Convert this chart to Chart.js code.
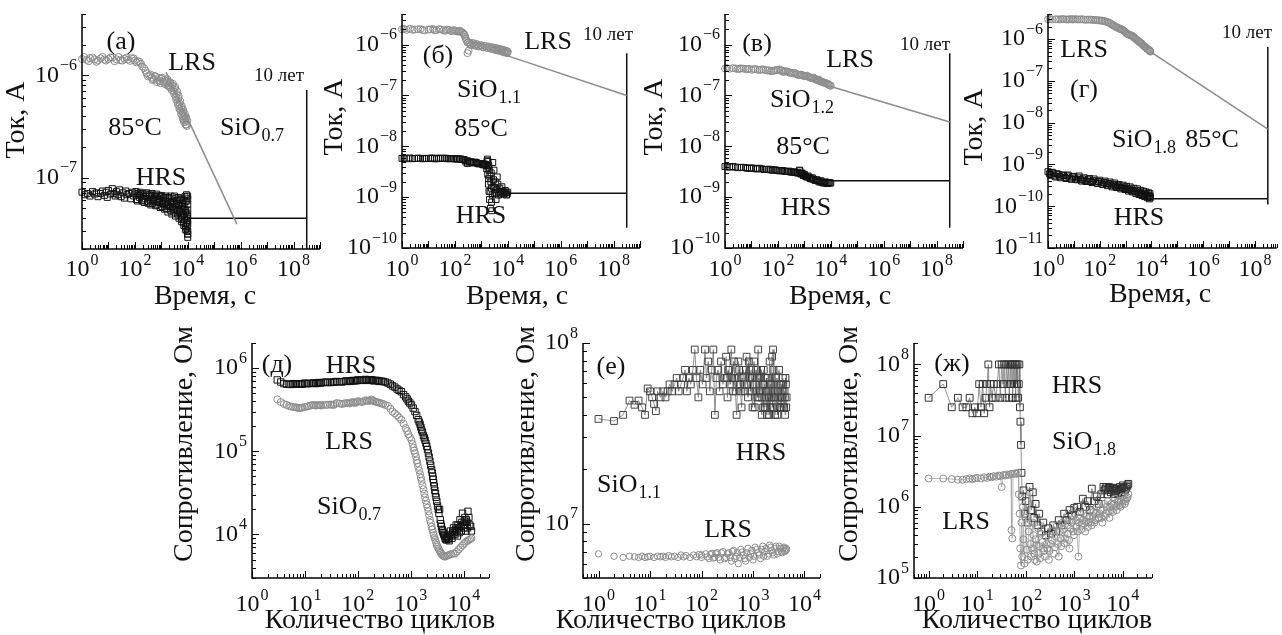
<!DOCTYPE html>
<html><head><meta charset="utf-8">
<script src="https://cdn.jsdelivr.net/npm/chart.js@4.4.1/dist/chart.umd.min.js"></script>
<style>
html,body{margin:0;padding:0;background:#fff;}
#wrap{position:relative;width:1282px;height:635px;overflow:hidden;background:#fff;}
#wrap canvas{position:absolute;left:0;top:0;}
</style></head><body><div id="wrap"></div>
<script>
// ---------------- DATA ----------------
const TEN_YEARS = 3.15e8;               // 10 лет, s
const topXExp = [0, 2, 4, 6, 8];        // x tick labels 10^n, panels а–г
const botXExp = [0, 1, 2, 3, 4];        // x tick labels 10^n, panels д–ж
const aYExp = [-7, -6];
const bYExp = [-10, -9, -8, -7, -6];
const cYExp = [-10, -9, -8, -7, -6];
const dYExp = [-11, -10, -9, -8, -7, -6];
const eYExp = [4, 5, 6];
const fYExp = [7, 8];
const gYExp = [5, 6, 7, 8];

// (а) SiO0.7 retention at 85°C  [time s, current A]
const aLrs = [[1,1.45e-6],[1.5,1.42e-6],[2,1.48e-6],[3,1.44e-6],[4,1.40e-6],[5,1.47e-6],[7,1.43e-6],[10,1.45e-6],[14,1.50e-6],[20,1.44e-6],
[28,1.41e-6],[40,1.46e-6],[55,1.43e-6],[75,1.48e-6],[100,1.40e-6],[130,1.38e-6],[170,1.30e-6],[220,1.18e-6],[280,1.05e-6],[350,1.00e-6],
[430,0.95e-6],[520,0.92e-6],[620,0.97e-6],[740,0.90e-6],[880,0.88e-6],[1000,0.93e-6],[1200,0.86e-6],[1400,0.82e-6],[1600,0.88e-6],[1800,0.80e-6],
[2000,0.84e-6],[2300,0.76e-6],[2600,0.80e-6],[2900,0.70e-6],[3200,0.74e-6],[3500,0.62e-6],[3800,0.66e-6],[4100,0.55e-6],[4400,0.60e-6],[4700,0.50e-6],
[5000,0.53e-6],[5400,0.45e-6],[5800,0.48e-6],[6200,0.40e-6],[6600,0.44e-6],[7000,0.37e-6],[7500,0.40e-6],[8000,0.35e-6],[8500,0.38e-6],[9000,0.33e-6]];
const aLrs2 = [[1.2,1.52e-6],[1.8,1.38e-6],[2.5,1.5e-6],[3.5,1.36e-6],[6,1.52e-6],[8,1.4e-6],[12,1.5e-6],[17,1.38e-6],[24,1.52e-6],[34,1.4e-6],
[48,1.5e-6],[65,1.39e-6],[90,1.47e-6],[115,1.34e-6],[150,1.36e-6],[190,1.22e-6],[250,1.12e-6],[310,0.98e-6],[390,1.02e-6],[470,0.9e-6],
[570,0.99e-6],[680,0.86e-6],[810,0.95e-6],[940,0.84e-6],[1100,0.95e-6],[1300,0.9e-6],[1500,0.84e-6],[1700,0.92e-6],[1900,0.78e-6],[2150,0.86e-6],
[2450,0.72e-6],[2750,0.83e-6],[3050,0.66e-6],[3350,0.77e-6],[3650,0.58e-6],[3950,0.7e-6],[4250,0.52e-6],[4550,0.63e-6],[4850,0.47e-6],[5200,0.56e-6],
[5600,0.42e-6],[6000,0.5e-6],[6400,0.38e-6],[6800,0.46e-6],[7200,0.35e-6],[7700,0.42e-6],[8200,0.33e-6],[8700,0.39e-6],[9200,0.32e-6],[9600,0.36e-6]];
const aHrs = [[1,7.2e-8],[1.3,6.8e-8],[1.6,7.0e-8],[2,6.6e-8],[2.5,7.3e-8],[3,6.9e-8],[3.5,7.1e-8],[4,6.5e-8],[5,7.0e-8],[6,7.4e-8],
[7,6.7e-8],[8,7.2e-8],[9,6.4e-8],[10,7.5e-8],[12,6.9e-8],[14,7.8e-8],[16,7.0e-8],[18,6.6e-8],[20,7.3e-8],[23,6.8e-8],
[26,7.6e-8],[30,6.5e-8],[35,7.1e-8],[40,6.3e-8],[45,7.4e-8],[50,6.8e-8],[60,7.0e-8],[70,6.2e-8],[80,7.2e-8],[90,6.6e-8],
[100,6.9e-8],[115,6.1e-8],[130,7.0e-8],[150,6.4e-8],[170,6.8e-8],[190,5.9e-8],[210,6.6e-8],[240,6.2e-8],[270,6.9e-8],[300,5.8e-8],
[340,6.5e-8],[380,6.0e-8],[420,6.7e-8],[470,5.6e-8],[520,6.3e-8],[580,5.9e-8],[640,6.6e-8],[700,5.4e-8],[780,6.2e-8],[860,5.7e-8],
[950,6.5e-8],[1050,5.2e-8],[1150,6.0e-8],[1270,5.5e-8],[1400,6.4e-8],[1530,5.0e-8],[1680,5.8e-8],[1850,5.3e-8],[2000,6.2e-8],[2200,4.8e-8],
[2400,5.7e-8],[2600,5.1e-8],[2800,6.3e-8],[3000,4.6e-8],[3300,5.5e-8],[3600,4.9e-8],[3900,6.0e-8],[4200,4.4e-8],[4500,5.3e-8],[4800,4.7e-8],
[5100,6.1e-8],[5400,4.2e-8],[5700,5.0e-8],[6000,3.9e-8],[6300,5.6e-8],[6600,4.5e-8],[6900,3.6e-8],[7200,5.2e-8],[7500,4.1e-8],[7800,6.5e-8],
[8100,3.3e-8],[8400,4.8e-8],[8700,3.8e-8],[9000,6.8e-8],[9300,3.0e-8],[9600,4.4e-8],[9800,2.8e-8],[10000,5.5e-8],[10000,3.5e-8],[10000,2.6e-8],
[10000,6.2e-8],[10000,4.2e-8],[10000,3.0e-8]];
const aHrs2 = [[110,7.3e-8],[125,5.9e-8],[140,6.7e-8],[160,7.2e-8],[180,6.0e-8],[200,7.0e-8],[225,5.7e-8],[255,6.6e-8],[285,7.1e-8],[320,5.6e-8],
[360,6.8e-8],[400,5.4e-8],[445,7.0e-8],[495,5.9e-8],[550,6.6e-8],[610,5.3e-8],[670,6.9e-8],[740,5.8e-8],[820,6.6e-8],[900,5.1e-8],
[1000,6.7e-8],[1100,5.6e-8],[1200,6.3e-8],[1330,4.9e-8],[1460,6.6e-8],[1600,5.4e-8],[1760,4.6e-8],[1920,6.4e-8],[2100,5.2e-8],[2300,6.6e-8],
[2500,4.4e-8],[2700,5.9e-8],[2900,4.9e-8],[3150,6.6e-8],[3450,4.2e-8],[3750,5.8e-8],[4050,4.8e-8],[4350,6.4e-8],[4650,4.0e-8],[4950,5.5e-8],
[5250,4.7e-8],[5550,6.3e-8],[5850,3.7e-8],[6150,5.2e-8],[6450,4.3e-8],[6750,6.0e-8],[7050,3.4e-8],[7350,4.9e-8],[7650,3.9e-8],[7950,5.8e-8],
[8250,3.1e-8],[8550,4.6e-8],[8850,3.6e-8],[9150,5.9e-8],[9450,3.3e-8],[9700,4.0e-8],[9900,6.6e-8],[9950,3.8e-8],[10000,4.8e-8],[10000,2.8e-8]];
const aLrsFit = [[1500,1.08e-6],[7.2e5,3.5e-8]];
const aHrsFit = [[1e4,4.0e-8],[TEN_YEARS,4.0e-8]];
const aTen = [[TEN_YEARS,7.2e-7],[TEN_YEARS,2e-8]];

// (б) SiO1.1
const bLrs = [[1,2.0e-6],[1.5,1.95e-6],[2,2.05e-6],[3,1.98e-6],[5,2.02e-6],[7,1.9e-6],[10,1.97e-6],[15,2.03e-6],[20,1.93e-6],[30,1.99e-6],
[45,1.88e-6],[60,1.95e-6],[80,1.85e-6],[100,1.9e-6],[130,1.8e-6],[160,1.86e-6],[200,1.7e-6],[230,1.55e-6],[260,1.3e-6],[300,1.1e-6],
[300,6.8e-7],[330,7.6e-7],[360,1.07e-6],[420,1.0e-6],[500,1.05e-6],[600,9.5e-7],[700,1.0e-6],[850,9.2e-7],[1000,9.6e-7],[1200,8.8e-7],
[1400,9.3e-7],[1700,8.6e-7],[2000,9.0e-7],[2400,8.2e-7],[2800,8.7e-7],[3300,7.9e-7],[3800,8.4e-7],[4300,7.6e-7],[5000,8.1e-7],[5800,7.3e-7],
[6600,7.8e-7],[7500,7.0e-7],[8500,7.5e-7],[9500,6.8e-7],[10000,7.2e-7]];
const bLrs2 = [[1.2,2.04e-6],[2.5,1.96e-6],[4,2.0e-6],[6,1.94e-6],[12,2.0e-6],[17,1.92e-6],[25,2.01e-6],[37,1.9e-6],[50,1.97e-6],[70,1.86e-6],
[90,1.93e-6],[115,1.84e-6],[145,1.83e-6],[180,1.75e-6],[215,1.62e-6],[245,1.42e-6],[280,1.2e-6],[320,1.12e-6],[390,0.98e-6],[460,1.08e-6],
[550,0.97e-6],[650,1.03e-6],[770,0.93e-6],[920,0.98e-6],[1100,0.9e-6],[1300,0.95e-6],[1550,0.87e-6],[1850,0.92e-6],[2200,0.84e-6],[2600,0.89e-6],
[3000,0.8e-6],[3550,0.86e-6],[4000,0.78e-6],[4650,0.83e-6],[5400,0.75e-6],[6200,0.8e-6],[7000,0.72e-6],[8000,0.77e-6],[9000,0.7e-6],[9800,0.74e-6]];
const bHrs = [[1,5.8e-9],[1.5,5.7e-9],[2,5.9e-9],[3,5.75e-9],[4,5.85e-9],[6,5.7e-9],[8,5.8e-9],[10,5.75e-9],[14,5.9e-9],[20,5.7e-9],
[28,5.8e-9],[40,5.85e-9],[55,5.7e-9],[75,5.75e-9],[100,5.65e-9],[130,5.7e-9],[170,5.6e-9],[220,5.5e-9],[260,4.9e-9],[300,5.2e-9],
[300,4.6e-9],[400,5.0e-9],[500,4.7e-9],[650,4.8e-9],[800,4.5e-9],[1000,4.6e-9],[1200,4.3e-9],[1450,4.4e-9],[1600,3.6e-9],[1700,5.6e-9],
[1750,2.8e-9],[1800,5.0e-9],[1850,1.8e-9],[1900,4.2e-9],[1950,1.3e-9],[2000,3.4e-9],[2050,9e-10],[2100,2.6e-9],[2200,6e-10],[2300,2.0e-9],
[2400,1.5e-9],[2500,5.4e-10],[2600,1.1e-9],[2700,4.8e-9],[2800,1.6e-9],[3000,3.4e-9],[3200,1.2e-9],[3400,2.0e-9],[3600,9e-10],[3800,1.4e-9],
[4000,2.5e-9],[4500,1.1e-9],[5000,1.5e-9],[5500,1.25e-9],[6000,1.6e-9],[7000,1.15e-9],[8000,1.35e-9],[9000,1.1e-9],[10000,1.25e-9]];
const bHrs2 = [[1.2,5.85e-9],[2.5,5.7e-9],[5,5.8e-9],[7,5.75e-9],[12,5.8e-9],[17,5.7e-9],[24,5.85e-9],[34,5.75e-9],[47,5.8e-9],[65,5.7e-9],
[87,5.75e-9],[115,5.6e-9],[150,5.65e-9],[195,5.5e-9],[240,5.3e-9],[350,4.9e-9],[450,4.8e-9],[570,4.9e-9],[720,4.6e-9],[900,4.6e-9],
[1100,4.4e-9],[1320,4.5e-9],[1520,4.2e-9],[1650,5.2e-9],[1780,3.9e-9],[1880,2.3e-9],[2150,1.3e-9],[2350,3.0e-9],[2450,8e-10],[2900,2.2e-9],
[3300,1.5e-9],[3700,1.2e-9],[4200,1.8e-9],[4700,1.3e-9],[5200,1.15e-9],[6500,1.3e-9],[7500,1.2e-9],[8500,1.25e-9],[9500,1.15e-9]];
const bLrsFit = [[1e4,6.0e-7],[TEN_YEARS,1.0e-7]];
const bHrsFit = [[1e4,1.2e-9],[TEN_YEARS,1.2e-9]];
const bTen = [[TEN_YEARS,6.8e-7],[TEN_YEARS,2.5e-10]];

// (в) SiO1.2
const cLrs = [[1,3.4e-7],[1.5,3.35e-7],[2,3.45e-7],[3,3.3e-7],[4,3.4e-7],[6,3.3e-7],[8,3.35e-7],[10,3.2e-7],[14,3.3e-7],[20,3.15e-7],
[28,3.25e-7],[40,3.1e-7],[55,3.0e-7],[75,3.1e-7],[100,3.2e-7],[130,3.05e-7],[160,2.9e-7],[200,3.0e-7],[260,2.85e-7],[330,2.75e-7],
[420,2.8e-7],[520,2.6e-7],[650,2.5e-7],[800,2.55e-7],[1000,2.4e-7],[1250,2.45e-7],[1500,2.3e-7],[1800,2.2e-7],[2200,2.25e-7],[2600,2.1e-7],
[3000,2.0e-7],[3500,2.05e-7],[4000,1.9e-7],[4700,1.85e-7],[5500,1.8e-7],[6500,1.75e-7],[7500,1.7e-7],[8500,1.62e-7],[10000,1.55e-7]];
const cLrs2 = [[1.2,3.45e-7],[2.5,3.4e-7],[3.5,3.35e-7],[5,3.38e-7],[7,3.28e-7],[12,3.3e-7],[17,3.22e-7],[24,3.25e-7],[34,3.15e-7],[47,3.12e-7],
[65,3.05e-7],[87,3.15e-7],[115,3.25e-7],[145,3.1e-7],[180,2.95e-7],[230,2.95e-7],[290,2.8e-7],[370,2.72e-7],[470,2.7e-7],[580,2.55e-7],
[720,2.55e-7],[900,2.45e-7],[1120,2.4e-7],[1380,2.35e-7],[1650,2.28e-7],[2000,2.2e-7],[2400,2.15e-7],[2800,2.08e-7],[3250,2.0e-7],[3750,1.95e-7],
[4350,1.88e-7],[5000,1.82e-7],[6000,1.76e-7],[7000,1.7e-7],[8000,1.66e-7],[9200,1.58e-7]];
const cHrs = [[1,4.0e-9],[1.5,3.9e-9],[2,4.0e-9],[3,3.8e-9],[5,3.85e-9],[7,3.7e-9],[10,3.75e-9],[15,3.6e-9],[20,3.7e-9],[30,3.5e-9],
[45,3.55e-9],[60,3.4e-9],[80,3.45e-9],[110,3.3e-9],[150,3.35e-9],[200,3.2e-9],[260,3.25e-9],[330,3.1e-9],[420,3.15e-9],[520,3.0e-9],
[650,3.4e-9],[700,2.9e-9],[800,3.0e-9],[900,2.7e-9],[1000,2.8e-9],[1200,2.5e-9],[1400,2.6e-9],[1700,2.3e-9],[2000,2.4e-9],[2500,2.15e-9],
[3000,2.2e-9],[3600,2.0e-9],[4300,2.1e-9],[5200,1.9e-9],[6200,2.0e-9],[7300,1.85e-9],[8500,1.95e-9],[10000,1.9e-9]];
const cHrs2 = [[1.2,3.95e-9],[2.5,3.9e-9],[4,3.85e-9],[6,3.8e-9],[8.5,3.7e-9],[12,3.7e-9],[17,3.62e-9],[25,3.6e-9],[37,3.5e-9],[52,3.45e-9],
[70,3.42e-9],[95,3.35e-9],[130,3.3e-9],[175,3.25e-9],[230,3.2e-9],[290,3.15e-9],[370,3.1e-9],[470,3.05e-9],[580,3.0e-9],[680,3.3e-9],
[750,2.85e-9],[850,2.9e-9],[950,2.65e-9],[1100,2.6e-9],[1300,2.5e-9],[1550,2.4e-9],[1850,2.3e-9],[2200,2.25e-9],[2750,2.15e-9],[3300,2.1e-9],
[3950,2.0e-9],[4700,1.95e-9],[5700,1.92e-9],[6700,1.9e-9],[7900,1.88e-9],[9200,1.9e-9]];
const cLrsFit = [[1e4,1.5e-7],[TEN_YEARS,3e-8]];
const cHrsFit = [[1e4,2.1e-9],[TEN_YEARS,2.1e-9]];
const cTen = [[TEN_YEARS,6.8e-7],[TEN_YEARS,2.5e-10]];

// (г) SiO1.8
const dLrs = [[1,3.0e-6],[1.5,2.95e-6],[2,3.0e-6],[3,2.97e-6],[4,3.02e-6],[6,2.95e-6],[8,3.0e-6],[10,2.98e-6],[14,2.95e-6],[20,3.0e-6],
[28,2.92e-6],[40,2.95e-6],[55,2.9e-6],[75,2.85e-6],[100,2.8e-6],[130,2.75e-6],[170,2.65e-6],[220,2.5e-6],[280,2.3e-6],[350,2.1e-6],
[430,1.95e-6],[520,1.85e-6],[620,1.75e-6],[740,1.7e-6],[880,1.55e-6],[1050,1.4e-6],[1250,1.3e-6],[1500,1.25e-6],[1800,1.2e-6],[2100,1.1e-6],
[2500,1.0e-6],[3000,9.2e-7],[3500,8.5e-7],[4000,8.0e-7],[4700,7.2e-7],[5500,6.6e-7],[6500,6.0e-7],[7500,5.7e-7],[8500,5.3e-7],[9000,5.0e-7]];
const dLrs2 = [[1.2,3.02e-6],[2.5,2.98e-6],[3.5,3.0e-6],[5,2.97e-6],[7,3.0e-6],[9,2.96e-6],[12,3.0e-6],[17,2.97e-6],[24,2.95e-6],[34,2.93e-6],
[47,2.92e-6],[65,2.88e-6],[87,2.83e-6],[115,2.78e-6],[150,2.7e-6],[195,2.58e-6],[250,2.4e-6],[315,2.2e-6],[390,2.02e-6],[475,1.9e-6],
[570,1.8e-6],[680,1.72e-6],[810,1.62e-6],[960,1.48e-6],[1150,1.35e-6],[1380,1.28e-6],[1650,1.22e-6],[1950,1.15e-6],[2300,1.05e-6],[2750,0.96e-6],
[3250,0.88e-6],[3750,0.82e-6],[4350,0.76e-6],[5100,0.69e-6],[6000,0.63e-6],[7000,0.58e-6],[8000,0.55e-6],[8800,0.52e-6]];
const dHrs = [[1,6.7e-10],[1.3,5.5e-10],[1.6,6.2e-10],[2,5.0e-10],[2.5,5.8e-10],[3,4.8e-10],[4,5.5e-10],[5,4.6e-10],[6,5.6e-10],[8,4.4e-10],
[10,5.2e-10],[13,4.3e-10],[16,5.3e-10],[20,4.0e-10],[25,4.8e-10],[30,3.9e-10],[40,4.6e-10],[50,3.7e-10],[60,4.5e-10],[80,3.5e-10],
[100,4.2e-10],[130,3.3e-10],[160,4.0e-10],[200,3.1e-10],[250,3.8e-10],[300,2.9e-10],[380,3.6e-10],[450,2.8e-10],[550,3.3e-10],[650,2.6e-10],
[800,3.2e-10],[950,2.5e-10],[1100,3.0e-10],[1300,2.3e-10],[1500,2.9e-10],[1800,2.2e-10],[2100,2.7e-10],[2500,2.0e-10],[2900,2.6e-10],[3300,1.9e-10],
[3800,2.4e-10],[4300,1.8e-10],[4900,2.3e-10],[5500,1.7e-10],[6200,2.2e-10],[7000,1.6e-10],[7800,2.1e-10],[8300,1.5e-10],[8700,2.0e-10],[9000,1.6e-10]];
const dHrs2 = [[1.15,6.0e-10],[1.45,6.5e-10],[1.8,5.3e-10],[2.2,6.0e-10],[2.8,5.2e-10],[3.5,5.6e-10],[4.5,4.9e-10],[5.5,5.3e-10],[7,4.7e-10],[9,5.0e-10],
[11.5,4.5e-10],[14.5,4.8e-10],[18,4.3e-10],[22,4.5e-10],[27,4.1e-10],[35,4.3e-10],[45,3.9e-10],[55,4.1e-10],[70,3.8e-10],[90,3.9e-10],
[115,3.6e-10],[145,3.7e-10],[180,3.4e-10],[225,3.5e-10],[275,3.2e-10],[340,3.3e-10],[410,3.0e-10],[500,3.1e-10],[600,2.8e-10],[720,2.9e-10],
[870,2.7e-10],[1030,2.7e-10],[1200,2.5e-10],[1400,2.6e-10],[1650,2.4e-10],[1950,2.4e-10],[2300,2.2e-10],[2700,2.3e-10],[3100,2.1e-10],[3550,2.15e-10],
[4050,1.95e-10],[4600,2.05e-10],[5200,1.85e-10],[5850,1.95e-10],[6600,1.8e-10],[7400,1.85e-10],[8100,1.7e-10],[8900,1.75e-10]];
const dLrsFit = [[9000,5.0e-7],[TEN_YEARS,7e-9]];
const dHrsFit = [[9000,1.5e-10],[TEN_YEARS,1.5e-10]];
const dTen = [[TEN_YEARS,6.5e-7],[TEN_YEARS,1.1e-10]];

// (д) SiO0.7 endurance  [cycles, resistance Ohm]
const eHrs = [[3,7.2e5],[4,6.5e5],[5,6.4e5],[6,6.5e5],[7,6.4e5],[8,6.5e5],[9,6.4e5],[10,6.6e5],[12,6.5e5],[14,6.6e5],
[16,6.5e5],[18,6.7e5],[20,6.6e5],[25,6.8e5],[30,6.7e5],[35,6.8e5],[40,6.9e5],[50,6.8e5],[60,7.0e5],[70,6.9e5],
[80,7.1e5],[90,7.0e5],[100,7.2e5],[120,7.1e5],[140,7.3e5],[160,7.1e5],[180,7.2e5],[200,7.0e5],[230,7.1e5],[260,6.9e5],
[300,6.9e5],[370,6.6e5],[450,6.1e5],[550,5.6e5],[660,5.2e5],[800,4.5e5],[900,4.0e5],[1030,3.6e5],[1200,3.0e5],[1380,2.4e5],
[1500,2.1e5],[1600,1.8e5],[1730,1.55e5],[1860,1.36e5],[2000,1.15e5],[2150,9.5e4],[2300,7.6e4],[2470,6.0e4],[2600,5.0e4],[2700,4.2e4],
[2850,3.4e4],[3000,2.8e4],[3200,2.2e4],[3400,1.8e4],[3500,2.0e4],[3600,1.5e4],[3800,1.24e4],[4000,1.1e4],[4200,1.0e4],[4450,9.0e3],
[4700,8.6e3],[5000,9.5e3],[5300,8.4e3],[5600,1.1e4],[6000,9.0e3],[6400,1.2e4],[6800,1.0e4],[7200,1.3e4],[7600,9.6e3],[8000,1.2e4],
[8500,1.5e4],[9000,1.1e4],[9500,1.8e4],[10000,1.2e4],[10500,1.6e4],[11000,1.1e4],[11500,1.4e4],[12000,1.9e4],[13000,1.3e4],[14000,1.1e4]];
const eHrs2 = [[3.5,6.8e5],[4.5,6.4e5],[5.5,6.35e5],[6.5,6.4e5],[7.5,6.45e5],[8.5,6.4e5],[11,6.5e5],[13,6.55e5],[15,6.6e5],[17,6.6e5],
[19,6.65e5],[22,6.7e5],[27,6.7e5],[32,6.75e5],[37,6.8e5],[45,6.85e5],[55,6.9e5],[65,6.95e5],[75,7.0e5],[85,7.05e5],
[95,7.1e5],[110,7.15e5],[130,7.2e5],[150,7.2e5],[170,7.2e5],[190,7.15e5],[215,7.1e5],[245,7.0e5],[280,6.95e5],[330,6.8e5],
[410,6.4e5],[500,5.9e5],[600,5.4e5],[730,4.8e5],[850,4.25e5],[960,3.8e5],[1110,3.3e5],[1290,2.7e5],[1440,2.25e5],[1550,1.95e5],
[1660,1.7e5],[1800,1.45e5],[1930,1.25e5],[2070,1.05e5],[2220,8.5e4],[2380,6.8e4],[2540,5.5e4],[2650,4.6e4],[2780,3.8e4],[2920,3.1e4],
[3100,2.5e4],[3300,2.0e4],[3700,1.35e4],[3900,1.15e4],[4100,1.05e4],[4350,9.5e3],[4600,8.8e3],[4850,9.2e3],[5150,8.8e3],[5450,1.0e4],
[5800,9.6e3],[6200,1.1e4],[6600,1.05e4],[7000,1.15e4],[7400,1.1e4],[7800,1.3e4],[8200,1.05e4],[8800,1.25e4],[9200,1.4e4],[9800,1.3e4],
[10200,1.45e4],[10800,1.3e4],[11200,1.5e4],[11800,1.2e4],[12500,1.6e4],[13500,1.25e4]];
const eLrs = [[3,4.2e5],[4,3.7e5],[5,3.5e5],[6,3.4e5],[7,3.35e5],[8,3.3e5],[9,3.35e5],[10,3.4e5],[12,3.5e5],[14,3.6e5],
[16,3.55e5],[18,3.6e5],[20,3.55e5],[25,3.6e5],[30,3.65e5],[35,3.6e5],[40,3.8e5],[50,3.7e5],[60,3.8e5],[70,3.75e5],
[80,3.9e5],[90,3.8e5],[100,4.0e5],[120,3.9e5],[140,4.1e5],[160,4.0e5],[180,4.2e5],[200,4.0e5],[230,3.9e5],[260,3.8e5],
[300,3.7e5],[370,3.5e5],[450,3.0e5],[550,2.7e5],[660,2.4e5],[800,1.9e5],[900,1.6e5],[1030,1.36e5],[1120,1.1e5],[1200,9.5e4],
[1290,7.8e4],[1380,6.5e4],[1500,5.3e4],[1600,4.4e4],[1730,3.5e4],[1860,2.8e4],[2000,2.3e4],[2150,1.9e4],[2300,1.5e4],[2470,1.24e4],
[2650,1.05e4],[2800,9.2e3],[3000,8.0e3],[3200,7.1e3],[3450,6.5e3],[3700,6.0e3],[4000,5.6e3],[4400,5.4e3],[5000,5.6e3],[5800,5.8e3],
[6800,5.9e3],[8000,6.6e3],[9500,7.4e3],[11000,8.2e3],[12500,8.6e3],[14000,9.0e3]];
const eLrs2 = [[3.5,3.9e5],[4.5,3.6e5],[5.5,3.45e5],[6.5,3.38e5],[7.5,3.32e5],[8.5,3.33e5],[11,3.45e5],[13,3.55e5],[15,3.58e5],[17,3.57e5],
[19,3.58e5],[22,3.6e5],[27,3.62e5],[32,3.62e5],[37,3.7e5],[45,3.75e5],[55,3.75e5],[65,3.78e5],[75,3.85e5],[85,3.85e5],
[95,3.9e5],[110,3.95e5],[130,4.0e5],[150,4.05e5],[170,4.1e5],[190,4.1e5],[215,3.95e5],[245,3.85e5],[280,3.75e5],[330,3.6e5],
[410,3.25e5],[500,2.85e5],[600,2.55e5],[730,2.15e5],[850,1.75e5],[960,1.48e5],[1080,1.22e5],[1160,1.02e5],[1250,8.6e4],[1330,7.2e4],
[1440,5.9e4],[1550,4.8e4],[1660,3.9e4],[1800,3.1e4],[1930,2.55e4],[2070,2.1e4],[2220,1.7e4],[2380,1.38e4],[2550,1.15e4],[2720,9.8e3],
[2900,8.6e3],[3100,7.5e3],[3330,6.8e3],[3570,6.2e3],[3850,5.8e3],[4200,5.5e3],[4700,5.5e3],[5400,5.7e3],[6300,5.9e3],[7400,6.2e3],
[8700,7.0e3],[10200,7.8e3],[11800,8.4e3],[13300,8.8e3]];

// (е) SiO1.1 endurance
const fHrs = [[1,3.8e7],[2,3.7e7],[3,4.0e7],[4,4.8e7],[5,4.55e7],[6,4.8e7],[7,4.4e7],[8,4.0e7],[9,5.6e7],[10,5.4e7],
[11,5.0e7],[12,4.6e7],[13,4.2e7],[14,5.4e7],[16,5.0e7],[18,5.4e7],[20,5.0e7],[22,5.4e7],[24,5.9e7],[27,5.4e7],
[30,5.9e7],[33,6.4e7],[36,5.4e7],[40,5.9e7],[44,6.4e7],[48,7.1e7],[52,5.4e7],[57,6.4e7],[62,5.9e7],[68,7.1e7],
[74,9.2e7],[80,6.4e7],[87,5.0e7],[95,7.1e7],[105,5.9e7],[117,9.2e7],[125,6.4e7],[135,7.9e7],[145,5.4e7],[158,7.1e7],
[170,9.2e7],[182,4.0e7],[195,6.4e7],[210,7.1e7],[225,5.4e7],[240,7.9e7],[260,5.9e7],[280,6.4e7],[300,8.4e7],[320,5.0e7],
[345,7.1e7],[380,9.2e7],[410,5.4e7],[440,6.4e7],[480,4.0e7],[520,7.9e7],[560,5.9e7],[600,4.4e7],[650,7.1e7],[700,5.4e7],
[750,8.4e7],[800,5.0e7],[860,6.4e7],[920,7.1e7],[980,4.4e7],[1050,7.9e7],[1120,5.4e7],[1190,6.4e7],[1260,9.2e7],[1330,5.0e7],
[1400,6.4e7],[1480,4.0e7],[1550,5.9e7],[1620,7.1e7],[1700,4.4e7],[1780,5.4e7],[1860,4.0e7],[1940,6.4e7],[2020,5.0e7],[2100,7.9e7],
[2180,4.4e7],[2260,5.9e7],[2350,8.4e7],[2450,9.2e7],[2550,5.0e7],[2680,4.0e7],[2800,6.4e7],[2920,4.4e7],[3050,5.4e7],[3200,7.1e7],
[3350,4.4e7],[3500,5.9e7],[3650,5.0e7],[3800,6.4e7],[3950,4.4e7],[4100,5.4e7],[4200,4.0e7],[4350,5.9e7],[4500,5.0e7]];
const fHrs2 = [[310,6.4e7],[330,7.1e7],[360,5.9e7],[395,6.4e7],[425,7.9e7],[460,5.4e7],[500,6.4e7],[540,7.1e7],[580,5.4e7],[620,6.4e7],
[675,5.9e7],[725,7.1e7],[775,5.9e7],[830,7.9e7],[890,5.4e7],[950,6.4e7],[1010,5.9e7],[1080,4.4e7],[1150,7.1e7],[1220,5.0e7],
[1290,6.4e7],[1360,5.4e7],[1440,7.1e7],[1510,5.0e7],[1580,4.4e7],[1660,5.9e7],[1740,5.0e7],[1820,6.4e7],[1900,4.4e7],[1980,5.4e7],
[2060,4.0e7],[2140,5.9e7],[2220,5.0e7],[2300,6.4e7],[2400,4.4e7],[2500,7.1e7],[2600,5.4e7],[2740,5.0e7],[2860,5.9e7],[2980,4.0e7],
[3120,5.0e7],[3280,5.9e7],[3420,5.0e7],[3570,4.4e7],[3720,5.4e7],[3870,5.9e7],[4020,4.4e7],[4150,5.0e7],[4270,6.4e7],[4420,4.4e7]];
const fLrs = [[1,6.8e6],[2,6.6e6],[3,6.5e6],[4,6.6e6],[5,6.55e6],[6,6.5e6],[7,6.6e6],[8,6.5e6],[9,6.55e6],[10,6.6e6],
[12,6.5e6],[14,6.6e6],[16,6.55e6],[18,6.6e6],[20,6.5e6],[23,6.65e6],[26,6.55e6],[30,6.6e6],[35,6.5e6],[40,6.7e6],
[45,6.55e6],[50,6.65e6],[60,6.5e6],[70,6.7e6],[80,6.55e6],[90,6.75e6],[100,6.5e6],[120,6.8e6],[140,6.4e6],[160,6.85e6],
[180,6.5e6],[200,6.9e6],[230,6.3e6],[260,7.0e6],[300,6.5e6],[340,6.9e6],[380,6.2e6],[420,7.1e6],[470,6.6e6],[520,6.0e6],
[580,7.2e6],[650,6.7e6],[720,6.2e6],[800,7.3e6],[900,6.8e6],[1000,6.3e6],[1100,7.4e6],[1250,6.9e6],[1400,6.4e6],[1550,7.5e6],
[1700,7.0e6],[1900,6.6e6],[2100,7.6e6],[2300,7.1e6],[2550,6.7e6],[2800,7.5e6],[3100,7.0e6],[3400,7.3e6],[3700,6.9e6],[4000,7.4e6],
[4300,7.1e6],[4500,7.2e6]];
const fLrs2 = [[100,6.7e6],[130,6.55e6],[150,6.75e6],[170,6.45e6],[190,6.8e6],[215,6.5e6],[245,6.9e6],[280,6.4e6],[320,6.8e6],[360,6.5e6],
[400,7.0e6],[445,6.4e6],[495,6.9e6],[550,6.5e6],[610,6.95e6],[690,6.4e6],[760,6.9e6],[850,6.5e6],[950,7.1e6],[1050,6.6e6],
[1180,7.2e6],[1320,6.7e6],[1480,7.2e6],[1620,6.6e6],[1800,7.3e6],[2000,6.8e6],[2200,7.4e6],[2420,6.9e6],[2680,7.3e6],[2950,6.8e6],
[3250,7.5e6],[3550,7.0e6],[3850,7.3e6],[4150,7.0e6],[4400,7.3e6]];

// (ж) SiO1.8 endurance
const gHrs = [[1,3.4e7],[2,5.3e7],[3,2.5e7],[4,3.4e7],[5,2.5e7],[6,2.5e7],[7,3.4e7],[8,2.06e7],[9,2.5e7],[10,2.06e7],
[11,5.3e7],[12,2.5e7],[13,5.3e7],[14,2.06e7],[15,3.4e7],[16,5.3e7],[17,1.0e8],[18,2.5e7],[19,5.3e7],[20,3.4e7],
[22,5.3e7],[24,3.4e7],[26,5.3e7],[28,1.0e8],[30,3.4e7],[32,1.0e8],[34,5.3e7],[36,1.0e8],[38,3.4e7],[40,1.0e8],
[42,5.3e7],[44,1.0e8],[46,3.4e7],[48,1.0e8],[50,5.3e7],[52,1.0e8],[54,3.4e7],[56,1.0e8],[58,5.3e7],[60,1.0e8],
[62,3.4e7],[64,1.0e8],[66,5.3e7],[68,1.0e8],[70,3.4e7],[72,5.3e7],[74,1.0e8],[76,2.5e7],[78,1.57e7],[80,7.4e6],
[82,3.0e6],[85,1.4e6],[90,1.7e6],[95,8e5],[100,1.2e6],[110,6e5],[120,1.9e6],[130,9e5],[140,1.6e6],[150,7e5],
[160,1.1e6],[175,5.5e5],[190,8e5],[210,4.5e5],[230,6e5],[260,4.0e5],[290,5e5],[330,4.2e5],[370,5.5e5],[420,4.5e5],
[480,6.5e5],[550,5.5e5],[620,8e5],[700,6.5e5],[800,9e5],[900,7.5e5],[1000,9.6e5],[1150,1.0e6],[1300,8.5e5],[1500,1.3e6],
[1700,1.0e6],[1900,1.2e6],[2100,9e5],[2300,1.8e6],[2600,1.2e6],[2900,1.4e6],[3200,1.1e6],[3600,1.5e6],[4000,1.9e6],[4400,1.8e6],
[4800,1.5e6],[5200,1.9e6],[5700,1.6e6],[6200,1.85e6],[6800,1.5e6],[7400,1.8e6],[8000,1.55e6],[8700,1.9e6],[9400,1.6e6],[10000,2.0e6],
[11000,1.7e6],[12000,1.9e6],[13000,2.1e6]];
const gHrs2 = [[4200,1.7e6],[4600,1.9e6],[5000,1.75e6],[5400,1.85e6],[6000,1.7e6],[6500,1.8e6],[7100,1.65e6],[7700,1.75e6],[8400,1.7e6],[9000,1.8e6],
[9700,1.75e6],[10500,1.85e6],[11500,1.8e6],[12500,2.0e6]];
const gLrs = [[1,2.5e6],[2,2.5e6],[3,2.45e6],[4,2.4e6],[5,2.4e6],[6,2.45e6],[7,2.5e6],[8,2.45e6],[9,2.5e6],[10,2.55e6],
[12,2.5e6],[14,2.6e6],[16,2.55e6],[18,2.65e6],[20,2.6e6],[22,2.7e6],[25,2.65e6],[28,2.75e6],[30,2.7e6],[32,1.9e6],
[35,2.8e6],[38,2.75e6],[40,2.85e6],[45,2.8e6],[50,2.9e6],[51,4.7e5],[53,3.6e5],[55,2.9e6],[60,2.95e6],[65,2.9e6],
[70,3.0e6],[72,1.5e6],[75,8e5],[77,2.6e5],[80,1.5e5],[82,6e5],[85,2.0e5],[88,1.0e6],[90,3.5e5],[95,1.6e5],
[100,7e5],[105,2.5e5],[110,1.8e5],[115,4.5e5],[120,1.6e6],[125,3e5],[130,2e5],[140,6e5],[150,2.2e5],[160,3.5e5],
[170,1.7e5],[180,5e5],[190,2.8e5],[200,1.9e5],[220,3.2e5],[240,2.4e5],[260,3.8e5],[280,2.6e5],[300,1.8e5],[330,3e5],
[360,4.5e5],[400,2.7e5],[440,5.5e5],[480,2e5],[520,3.6e5],[570,6e5],[620,3.1e5],[680,7e5],[740,4.2e5],[800,2.6e5],
[870,6e5],[950,4.5e5],[1030,8e5],[1120,5.2e5],[1220,2.0e5],[1320,7e5],[1430,5.6e5],[1550,8e5],[1680,4.5e5],[1820,7.5e5],
[1970,6e5],[2130,9e5],[2300,5.5e5],[2500,8.5e5],[2700,6.5e5],[2900,1.0e6],[3200,7e5],[3500,9e5],[3800,6e5],[4100,1.1e6],
[4500,8e5],[4900,1.2e6],[5300,7e5],[5800,1.1e6],[6300,8.5e5],[6900,1.3e6],[7500,9e5],[8200,1.2e6],[9000,1.0e6],[10000,1.4e6],
[11000,1.1e6],[12000,1.3e6],[13000,1.5e6]];
const gLrs2 = [[135,2.6e5],[145,4e5],[155,1.8e5],[165,2.9e5],[185,2.2e5],[205,4.2e5],[230,2.6e5],[250,2.0e5],[270,3.0e5],[310,2.4e5],
[350,3.4e5],[380,2.2e5],[420,3.8e5],[460,3.0e5],[500,4.5e5],[540,2.8e5],[600,4.8e5],[650,3.6e5],[720,5.5e5],[780,3.4e5],
[840,5e5],[910,6.5e5],[990,4e5],[1070,6.5e5],[1170,4.5e5],[1270,6e5],[1380,4.8e5],[1500,6.5e5],[1620,5.8e5],[1750,6.2e5],
[1900,5.2e5],[2050,7e5],[2200,6e5],[2400,7.5e5],[2600,6e5],[2800,8e5],[3050,6.8e5],[3350,8e5],[3650,7e5],[3950,9e5],
[4300,7.5e5],[4700,1.0e6],[5100,8.5e5],[5500,1.0e6],[6000,9e5],[6600,1.1e6],[7200,1.0e6],[7800,1.15e6],[8500,1.05e6],[9200,1.2e6],
[9800,1.1e6],[10500,1.25e6],[11500,1.2e6],[12500,1.35e6]];

// ---------------- RENDER ----------------
const FONT = '"Liberation Serif","Times New Roman",serif';
const W = 1282, H = 635;
const LRS_C = '#8c8c8c', HRS_C = '#111';
const TICK_FS = 24;
const wrap = document.getElementById('wrap');
const pts = arr => arr.map(p => ({x: p[0], y: p[1]}));

function circles(arr, r, extra) {
  return Object.assign({data: pts(arr), pointStyle: 'circle', pointRadius: r, borderColor: LRS_C,
    pointBorderColor: LRS_C, pointBackgroundColor: 'rgba(0,0,0,0)', pointBorderWidth: 1, showLine: false, clip: false}, extra || {});
}
function squares(arr, r, extra) {
  return Object.assign({data: pts(arr), pointStyle: 'rect', pointRadius: r, borderColor: HRS_C,
    pointBorderColor: HRS_C, pointBackgroundColor: 'rgba(0,0,0,0)', pointBorderWidth: 1, showLine: false, clip: false}, extra || {});
}
function fline(arr, color, w) {
  return {data: pts(arr), showLine: true, pointRadius: 0, borderColor: color, borderWidth: w || 1.5, tension: 0, clip: false};
}

function logTicks(min, max) {
  const out = [];
  for (let e = Math.floor(Math.log10(min)) - 1; e <= Math.ceil(Math.log10(max)); e++) {
    for (let m = 1; m <= 9; m++) {
      const v = m * Math.pow(10, e);
      if (v >= min * 0.9999 && v <= max * 1.0001) out.push({v, major: m === 1});
    }
  }
  return out;
}
function sciLabel(ctx, exp, x, y, align, size) {
  const sup = Math.round(size * 0.68);
  ctx.textBaseline = 'middle'; ctx.textAlign = 'left';
  ctx.font = size + 'px ' + FONT; const w1 = ctx.measureText('10').width;
  const s = exp < 0 ? '\u2212' + (-exp) : String(exp);
  ctx.font = sup + 'px ' + FONT; const w2 = ctx.measureText(s).width;
  const tot = w1 + w2 + 1;
  const x0 = align === 'center' ? x - tot / 2 : x - tot;
  ctx.font = size + 'px ' + FONT; ctx.fillText('10', x0, y);
  ctx.font = sup + 'px ' + FONT; ctx.fillText(s, x0 + w1 + 1, y - size * 0.4);
}

function makePanel(p) {
  const c = document.createElement('canvas');
  c.width = W; c.height = H; c.style.width = W + 'px'; c.style.height = H + 'px';
  wrap.appendChild(c);
  const decor = {
    id: 'decor',
    afterDraw(chart) {
      const ctx = chart.ctx, a = chart.chartArea, xs = chart.scales.x, ys = chart.scales.y;
      ctx.save();
      ctx.strokeStyle = '#000'; ctx.fillStyle = '#111';
      ctx.lineWidth = 1.5;
      ctx.beginPath(); ctx.moveTo(a.left, a.top); ctx.lineTo(a.left, a.bottom); ctx.lineTo(a.right, a.bottom); ctx.stroke();
      ctx.lineWidth = 1;
      ctx.beginPath();
      logTicks(p.x[0], p.x[1]).forEach(t => {
        const px = Math.round(xs.getPixelForValue(t.v)) + 0.5;
        ctx.moveTo(px, a.bottom); ctx.lineTo(px, a.bottom - (t.major ? 7 : 4));
      });
      logTicks(p.y[0], p.y[1]).forEach(t => {
        const py = Math.round(ys.getPixelForValue(t.v)) + 0.5;
        ctx.moveTo(a.left, py); ctx.lineTo(a.left + (t.major ? 7 : 4), py);
      });
      ctx.stroke();
      p.xExp.forEach(e => sciLabel(ctx, e, xs.getPixelForValue(Math.pow(10, e)), a.bottom + p.xLabOff, 'center', TICK_FS));
      p.yExp.forEach(e => sciLabel(ctx, e, a.left - 5, ys.getPixelForValue(Math.pow(10, e)), 'right', TICK_FS));
      ctx.textAlign = 'center'; ctx.textBaseline = 'middle';
      ctx.font = '28px ' + FONT;
      ctx.fillText(p.xTitle[0], p.xTitle[1], p.xTitle[2]);
      if (p.yTitle) {
        ctx.save(); ctx.translate(p.yTitle[1], p.yTitle[2]); ctx.rotate(-Math.PI / 2);
        ctx.fillText(p.yTitle[0], 0, 0); ctx.restore();
      }
      p.texts.forEach(t => {
        ctx.font = (t.size || 26) + 'px ' + FONT; ctx.textAlign = 'center'; ctx.textBaseline = 'middle';
        ctx.fillText(t.t, t.x, t.y);
      });
      if (p.chem) {
        const [base, sub, x, y] = p.chem;
        ctx.font = '26px ' + FONT; ctx.textAlign = 'left'; ctx.textBaseline = 'middle';
        ctx.fillText(base, x, y);
        const w = ctx.measureText(base).width;
        ctx.font = '18px ' + FONT; ctx.fillText(sub, x + w + 1, y + 8);
      }
      ctx.restore();
    }
  };
  new Chart(c, {
    type: 'scatter',
    data: {datasets: p.datasets},
    options: {
      responsive: false, animation: false, devicePixelRatio: 1, events: [],
      layout: {padding: {left: p.area[0], top: p.area[1], right: W - p.area[2], bottom: H - p.area[3]}},
      plugins: {legend: {display: false}, tooltip: {enabled: false}},
      scales: {
        x: {type: 'logarithmic', display: false, min: p.x[0], max: p.x[1]},
        y: {type: 'logarithmic', display: false, min: p.y[0], max: p.y[1]}
      }
    },
    plugins: [decor]
  });
}

const T_TITLE = 'Время, с', I_TITLE = 'Ток, А', R_TITLE = 'Сопротивление, Ом', N_TITLE = 'Количество циклов';

makePanel({area: [82, 14, 320, 249], x: [1, 1e9], y: [2e-8, 4e-6], xExp: topXExp, yExp: aYExp, xLabOff: 21,
  xTitle: [T_TITLE, 205, 297], yTitle: [I_TITLE, 17, 120],
  datasets: [circles(aLrs, 3.5), circles(aLrs2, 3.5), squares(aHrs, 4.2), squares(aHrs2, 4.2),
             fline(aLrsFit, LRS_C), fline(aHrsFit, '#111'), fline(aTen, '#111')],
  texts: [{t: '(а)', x: 121, y: 42}, {t: 'LRS', x: 192, y: 63}, {t: '85°C', x: 135, y: 128}, {t: 'HRS', x: 161, y: 178}, {t: '10 лет', x: 279, y: 76, size: 19}],
  chem: ['SiO', '0.7', 220, 128]});

makePanel({area: [402, 14, 640, 248], x: [1, 1e9], y: [1e-10, 4e-6], xExp: topXExp, yExp: bYExp, xLabOff: 22,
  xTitle: [T_TITLE, 517, 297], yTitle: [I_TITLE, 335, 117],
  datasets: [circles(bLrs, 3.5), circles(bLrs2, 3.5), squares(bHrs, 4.2), squares(bHrs2, 4.2),
             fline(bLrsFit, LRS_C), fline(bHrsFit, '#111'), fline(bTen, '#111')],
  texts: [{t: 'LRS', x: 548, y: 42}, {t: '(б)', x: 438, y: 56}, {t: '85°C', x: 481, y: 129}, {t: 'HRS', x: 481, y: 216}, {t: '10 лет', x: 608, y: 35, size: 19}],
  chem: ['SiO', '1.1', 457, 90]});

makePanel({area: [725, 14, 963, 248], x: [1, 1e9], y: [1e-10, 4e-6], xExp: topXExp, yExp: cYExp, xLabOff: 22,
  xTitle: [T_TITLE, 840, 297], yTitle: [I_TITLE, 655, 117],
  datasets: [circles(cLrs, 3.5), circles(cLrs2, 3.5), squares(cHrs, 4.2), squares(cHrs2, 4.2),
             fline(cLrsFit, LRS_C), fline(cHrsFit, '#111'), fline(cTen, '#111')],
  texts: [{t: '(в)', x: 757, y: 44}, {t: 'LRS', x: 850, y: 60}, {t: '85°C', x: 803, y: 147}, {t: 'HRS', x: 806, y: 208}, {t: '10 лет', x: 925, y: 45, size: 19}],
  chem: ['SiO', '1.2', 770, 100]});

makePanel({area: [1048, 14, 1282, 248], x: [1, 7e8], y: [1e-11, 4e-6], xExp: topXExp, yExp: dYExp, xLabOff: 22,
  xTitle: [T_TITLE, 1160, 295], yTitle: [I_TITLE, 975, 127],
  datasets: [circles(dLrs, 3.5), circles(dLrs2, 3.5), squares(dHrs, 4.2), squares(dHrs2, 4.2),
             fline(dLrsFit, LRS_C), fline(dHrsFit, '#111'), fline(dTen, '#111')],
  texts: [{t: 'LRS', x: 1084, y: 50}, {t: '(г)', x: 1084, y: 90}, {t: '85°C', x: 1212, y: 140}, {t: 'HRS', x: 1139, y: 218}, {t: '10 лет', x: 1247, y: 33, size: 19}],
  chem: ['SiO', '1.8', 1112, 140]});

makePanel({area: [252, 343, 489, 578], x: [1, 3e4], y: [3e3, 2e6], xExp: botXExp, yExp: eYExp, xLabOff: 27,
  xTitle: [N_TITLE, 380, 621], yTitle: [R_TITLE, 185, 444],
  datasets: [circles(eLrs, 3.5), circles(eLrs2, 3.5), squares(eHrs, 4.5), squares(eHrs2, 4.5)],
  texts: [{t: '(д)', x: 277, y: 365}, {t: 'HRS', x: 351, y: 366}, {t: 'LRS', x: 349, y: 442}],
  chem: ['SiO', '0.7', 317, 507]});

makePanel({area: [583, 343, 820, 578], x: [0.5, 2e4], y: [5e6, 1e8], xExp: botXExp, yExp: fYExp, xLabOff: 27,
  xTitle: [N_TITLE, 671, 621], yTitle: [R_TITLE, 527, 444],
  datasets: [circles(fLrs, 3.2), circles(fLrs2, 3.2),
             squares(fHrs, 4.8, {showLine: true, borderColor: '#777', borderWidth: 0.8, pointBorderColor: '#444'}),
             squares(fHrs2, 4.8, {showLine: true, borderColor: '#555', borderWidth: 0.8, pointBorderColor: '#333'})],
  texts: [{t: '(е)', x: 611, y: 367}, {t: 'HRS', x: 761, y: 453}, {t: 'LRS', x: 728, y: 530}],
  chem: ['SiO', '1.1', 597, 485]});

makePanel({area: [914, 343, 1152, 578], x: [0.5, 4e4], y: [1e5, 2e8], xExp: botXExp, yExp: gYExp, xLabOff: 27,
  xTitle: [N_TITLE, 1037, 621], yTitle: [R_TITLE, 850, 444],
  datasets: [circles(gLrs, 3.5, {showLine: true, borderColor: '#aaa', borderWidth: 0.8}), circles(gLrs2, 3.5),
             squares(gHrs, 4.8, {showLine: true, borderColor: '#777', borderWidth: 0.8, pointBorderColor: '#333'}),
             squares(gHrs2, 4.8, {pointBorderColor: '#222'})],
  texts: [{t: '(ж)', x: 952, y: 364}, {t: 'HRS', x: 1077, y: 386}, {t: 'LRS', x: 966, y: 522}],
  chem: ['SiO', '1.8', 1052, 442]});
</script>
</body></html>
